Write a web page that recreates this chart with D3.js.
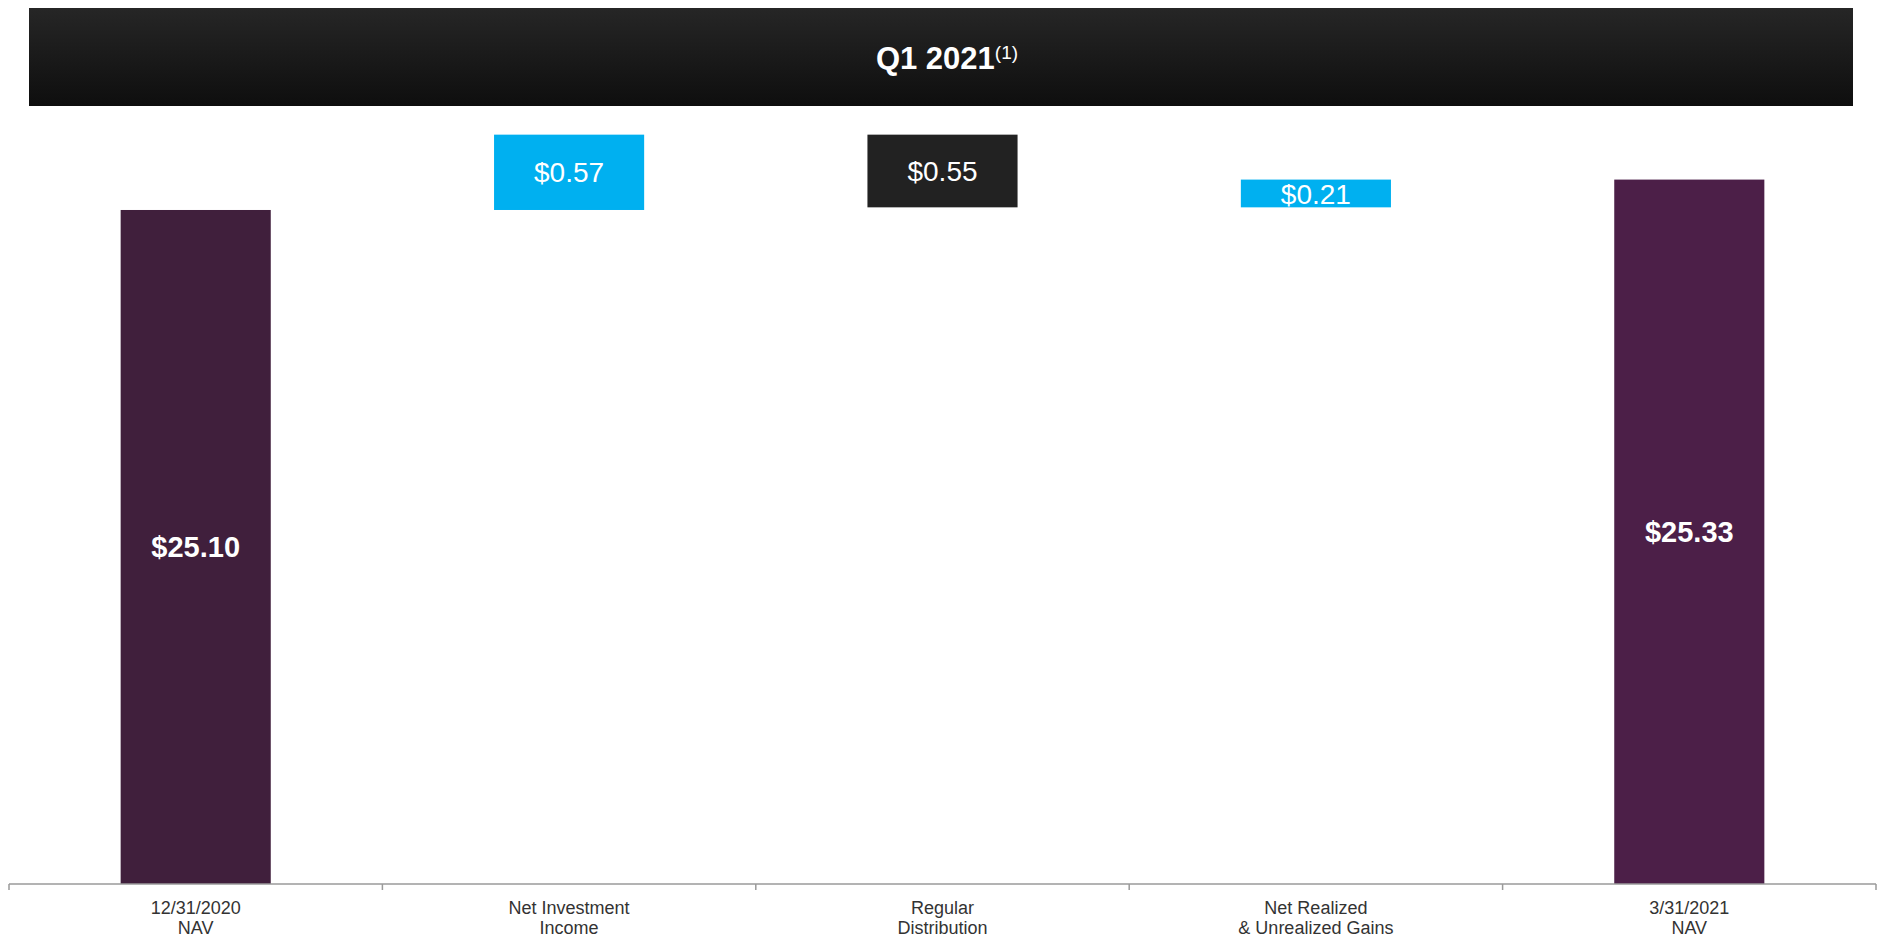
<!DOCTYPE html>
<html>
<head>
<meta charset="utf-8">
<script src="https://cdn.jsdelivr.net/npm/d3@7"></script>
<style>
  html, body { margin: 0; padding: 0; background: #ffffff; }
  svg { display: block; font-family: "Liberation Sans", Arial, sans-serif; }
</style>
</head>
<body>
<svg id="chart" width="1883" height="937"></svg>
<script>
// Chart data
var CATEGORIES = [["12/31/2020", "NAV"], ["Net Investment", "Income"], ["Regular", "Distribution"], ["Net Realized", "& Unrealized Gains"], ["3/31/2021", "NAV"]];
var STEP_TYPES = ["total", "up", "down", "up", "total"];
var STEP_VALUES = [25.10, 0.57, 0.55, 0.21, 25.33];
var STEP_LABELS = ["$25.10", "$0.57", "$0.55", "$0.21", "$25.33"];
var TITLE_TEXT = "Q1 2021";
var TITLE_NOTE = "(1)";

var WIDTH = 1883, HEIGHT = 937;
var AXIS_Y = 884;
var AXIS_LEFT = 9, AXIS_RIGHT = 1876;
var BAR_FRACTION = 0.402;
var COLORS = { total0: "#401f3c", total1: "#4c1f48", up: "#00b0f0", down: "#222222" };

var svg = d3.select("#chart");

// Header band
var defs = svg.append("defs");
var grad = defs.append("linearGradient")
    .attr("id", "hdr-grad")
    .attr("x1", 0).attr("y1", 0).attr("x2", 0).attr("y2", 1);
grad.append("stop").attr("offset", "0%").attr("stop-color", "#262626");
grad.append("stop").attr("offset", "100%").attr("stop-color", "#0e0e0e");

svg.append("rect")
    .attr("x", 29).attr("y", 8)
    .attr("width", 1824).attr("height", 98)
    .attr("fill", "url(#hdr-grad)");

var title = svg.append("text")
    .attr("x", 947)
    .attr("y", 69)
    .attr("text-anchor", "middle")
    .attr("fill", "#ffffff");
title.append("tspan")
    .attr("font-size", 31)
    .attr("font-weight", "bold")
    .text(TITLE_TEXT);
title.append("tspan")
    .attr("font-size", 19)
    .attr("dy", -10)
    .text(TITLE_NOTE);

// Scales
var xScale = d3.scaleBand()
    .domain(d3.range(CATEGORIES.length))
    .range([AXIS_LEFT, AXIS_RIGHT])
    .padding(0);

var yScale = d3.scaleLinear()
    .domain([20, 26])
    .range([AXIS_Y, AXIS_Y - 6 * 132.16]);

// Compute waterfall extents
var running = 0;
var bars = STEP_VALUES.map(function (v, i) {
    var t = STEP_TYPES[i], lo, hi;
    if (t === "total") { lo = 20; hi = v; running = v; }
    else if (t === "up") { lo = running; hi = running + v; running = hi; }
    else { hi = running; lo = running - v; running = lo; }
    return { i: i, type: t, lo: lo, hi: hi, label: STEP_LABELS[i] };
});

var barW = xScale.bandwidth() * BAR_FRACTION;

function barColor(d) {
    if (d.type === "total") return d.i === 0 ? COLORS.total0 : COLORS.total1;
    return d.type === "up" ? COLORS.up : COLORS.down;
}

svg.selectAll(".wf-bar")
    .data(bars)
    .enter()
    .append("rect")
    .attr("class", "wf-bar")
    .attr("x", d => xScale(d.i) + (xScale.bandwidth() - barW) / 2)
    .attr("y", d => yScale(d.hi))
    .attr("width", barW)
    .attr("height", d => yScale(d.lo) - yScale(d.hi))
    .attr("fill", barColor);

svg.selectAll(".wf-label")
    .data(bars)
    .enter()
    .append("text")
    .attr("class", "wf-label")
    .attr("x", d => xScale(d.i) + xScale.bandwidth() / 2)
    .attr("y", d => (yScale(d.lo) + yScale(d.hi)) / 2)
    .attr("dy", "0.36em")
    .attr("text-anchor", "middle")
    .attr("fill", "#ffffff")
    .attr("font-size", d => d.type === "total" ? 29 : 28)
    .attr("font-weight", d => d.type === "total" ? "bold" : "normal")
    .text(d => d.label);

// Category axis, ticks at band edges
var edges = CATEGORIES.map((c, i) => xScale(i)).concat([AXIS_RIGHT]);
svg.append("line")
    .attr("x1", AXIS_LEFT).attr("x2", AXIS_RIGHT)
    .attr("y1", AXIS_Y).attr("y2", AXIS_Y)
    .attr("stroke", "#9a9a9a")
    .attr("stroke-width", 1.5);
svg.selectAll(".axis-tick")
    .data(edges)
    .enter()
    .append("line")
    .attr("class", "axis-tick")
    .attr("x1", d => d).attr("x2", d => d)
    .attr("y1", AXIS_Y).attr("y2", AXIS_Y + 6)
    .attr("stroke", "#9a9a9a")
    .attr("stroke-width", 1.5);

var catLabels = svg.selectAll(".cat-label")
    .data(CATEGORIES)
    .enter()
    .append("text")
    .attr("class", "cat-label")
    .attr("text-anchor", "middle")
    .attr("fill", "#333333")
    .attr("font-size", 18);
catLabels.each(function (lines, i) {
    var t = d3.select(this);
    lines.forEach(function (ln, k) {
        t.append("tspan")
            .attr("x", xScale(i) + xScale.bandwidth() / 2)
            .attr("y", 914 + k * 20)
            .text(ln);
    });
});
</script>
</body>
</html>
